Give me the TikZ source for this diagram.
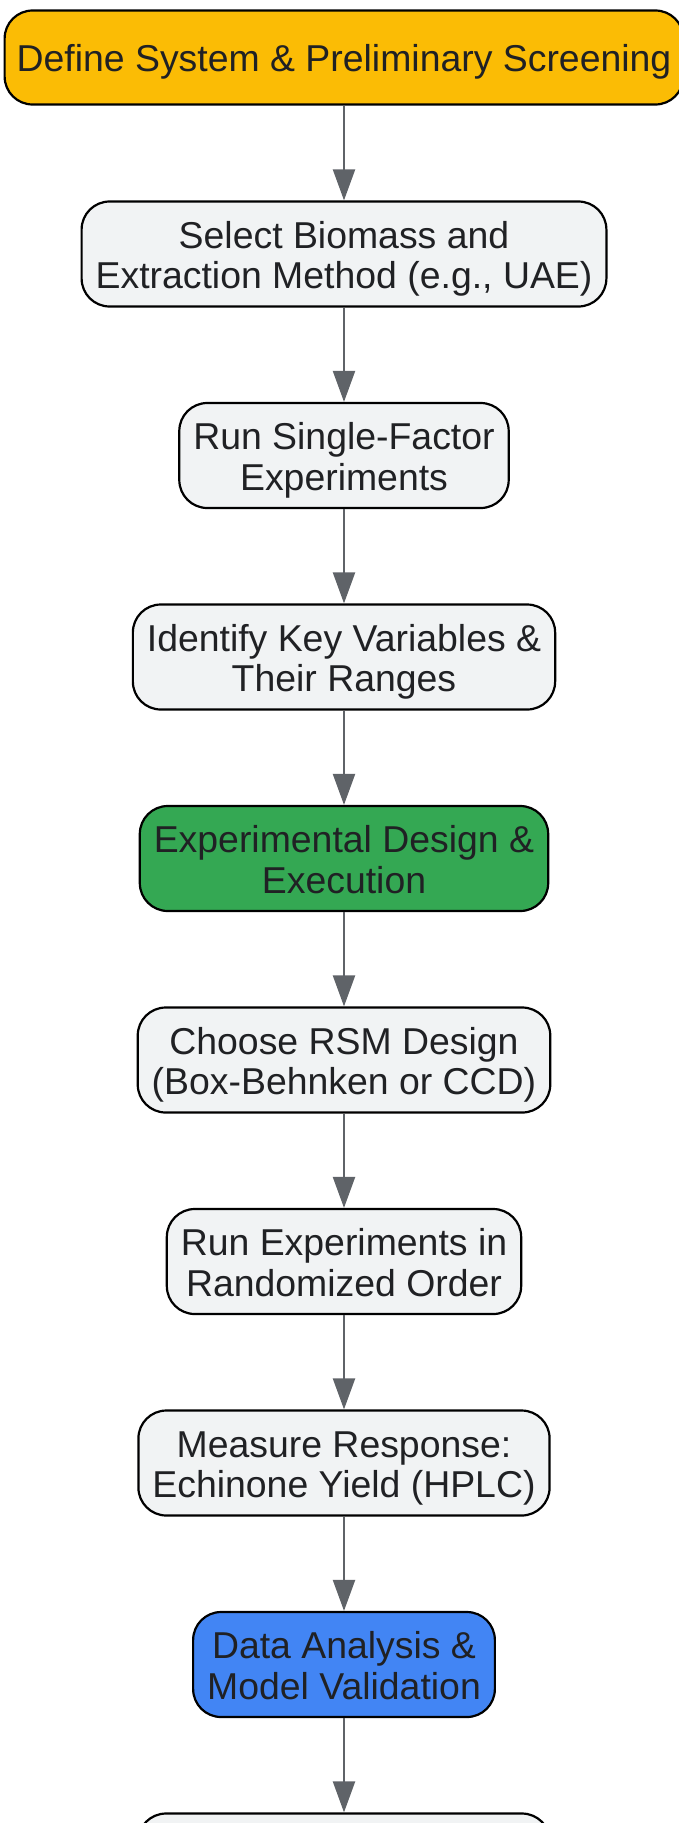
\documentclass[tikz,border=0pt]{standalone}
\usepackage{fontspec}
\setmainfont{Liberation Sans}
\usepackage{xcolor}
\usepackage{tikz}
\usetikzlibrary{arrows.meta}
\definecolor{gyellow}{HTML}{FBBC05}
\definecolor{ggreen}{HTML}{34A853}
\definecolor{gblue}{HTML}{4285F4}
\definecolor{gfill}{HTML}{F1F3F4}
\definecolor{gtext}{HTML}{202124}
\definecolor{garrow}{HTML}{5F6368}
\tikzset{
    phase/.style = {rectangle, rounded corners=28pt, minimum height=105pt, inner xsep=14pt, text height=77.6pt, text depth=8pt, align=center, text=gtext, draw=black, line width=2.2pt, font=\fontsize{37.4}{40.5}\selectfont},
    process/.style = {phase, fill=gfill},
    arrow/.style = {draw=garrow, line width=2.2pt, -{Triangle[length=31pt, width=22pt]}}
}

\begin{document}
\begin{tikzpicture}[node distance=201.5pt]
\path[use as bounding box, clip] (0pt,0pt) rectangle (679pt,-1823pt);
\node (define) [phase, fill=gyellow, minimum height=94pt, inner xsep=12pt, text height=36pt, text depth=8pt] at (344pt,-57.5pt) {Define System \& Preliminary Screening};
\node (biomass) [process, below of=define, node distance=196.5pt] {Select Biomass and\\Extraction Method (e.g., UAE)};
\node (single) [process, below of=biomass] {Run Single-Factor\\Experiments};
\node (keyvars) [process, below of=single] {Identify Key Variables \&\\Their Ranges};
\node (design) [phase, fill=ggreen, below of=keyvars] {Experimental Design \&\\Execution};
\node (rsm) [process, below of=design] {Choose RSM Design\\(Box-Behnken or CCD)};
\node (runexp) [process, below of=rsm] {Run Experiments in\\Randomized Order};
\node (measure) [process, below of=runexp] {Measure Response:\\Echinone Yield (HPLC)};
\node (analysis) [phase, fill=gblue, below of=measure] {Data Analysis \&\\Model Validation};
\node (next) [process, minimum width=412pt, below of=analysis] {};

\draw [arrow] (define) -- (biomass);
\draw [arrow] (biomass) -- (single);
\draw [arrow] (single) -- (keyvars);
\draw [arrow] (keyvars) -- (design);
\draw [arrow] (design) -- (rsm);
\draw [arrow] (rsm) -- (runexp);
\draw [arrow] (runexp) -- (measure);
\draw [arrow] (measure) -- (analysis);
\draw [arrow] (analysis) -- (next);
\end{tikzpicture}
\end{document}
